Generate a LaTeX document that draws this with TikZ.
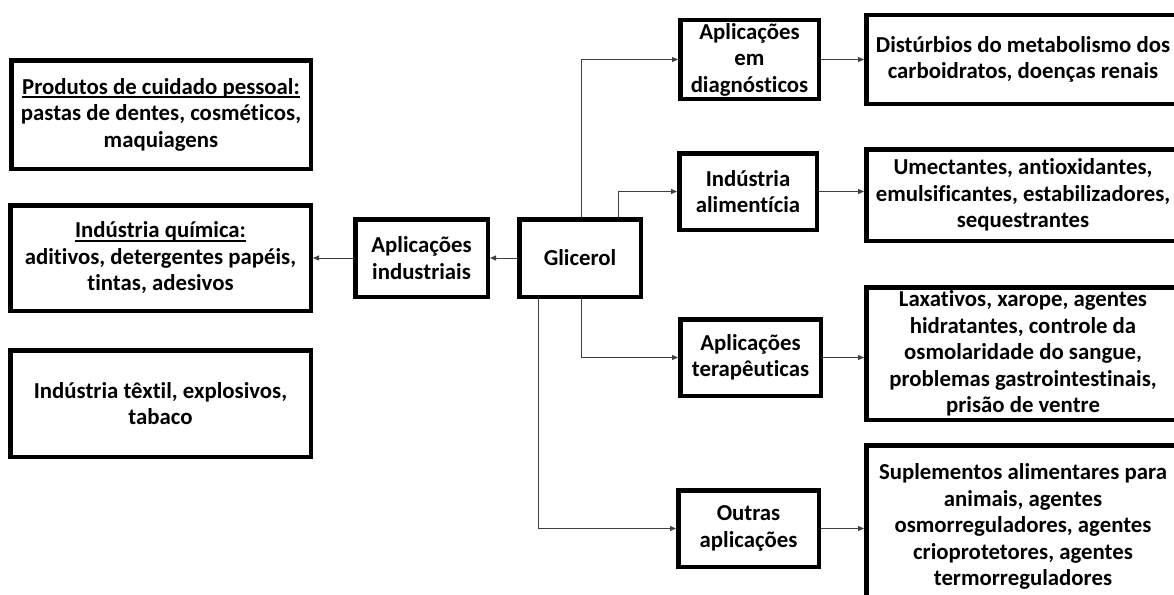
\documentclass[tikz,border=0pt]{standalone}
\usepackage{fontspec}
\setmainfont{Carlito}[Ligatures={NoCommon}]
\usetikzlibrary{arrows.meta}
\newcommand\myul[1]{\setbox0\hbox{#1}\rlap{\vrule height -1.6pt depth 3.6pt width \wd0}\box0}
\tikzset{
  boxnode/.style={draw=black, line width=4.5pt, inner sep=0pt, align=center,
    font=\fontsize{22.8}{26.5}\selectfont\bfseries, fill=white},
  conn/.style={line width=1pt, draw=black!75, -{Triangle[length=6pt,width=5pt]}},
}
\begin{document}
\begin{tikzpicture}[x=1pt,y=-1pt]
\useasboundingbox (0,0) rectangle (1174,594);
\clip (0,0) rectangle (1174,594);
\fill[white] (0,0) rectangle (1174,594);
% left column
\node[boxnode, minimum width=299.5pt, minimum height=108.5pt] (prod) at (161,114.5)
  {\myul{Produtos de cuidado pessoal:}\\pastas de dentes, cosméticos,\\maquiagens};
\node[boxnode, minimum width=300.5pt, minimum height=105.5pt] (quim) at (160.5,258)
  {\myul{Indústria química:}\\aditivos, detergentes papéis,\\tintas, adesivos};
\node[boxnode, minimum width=300.5pt, minimum height=106.5pt] (text) at (160.5,403.5)
  {Indústria têxtil, explosivos,\\tabaco};
% centre
\node[boxnode, minimum width=132.5pt, minimum height=77.5pt] (apind) at (421.5,258)
  {Aplicações\\industriais};
\node[boxnode, minimum width=121.5pt, minimum height=77.5pt] (glic) at (580,258)
  {Glicerol};
% middle column
\node[boxnode, minimum width=138.5pt, minimum height=78.5pt] (diag) at (749.5,59.5)
  {Aplicações\\em\\diagnósticos};
\node[boxnode, minimum width=137.5pt, minimum height=76.5pt] (alim) at (748,191.5)
  {Indústria\\alimentícia};
\node[boxnode, minimum width=140.5pt, minimum height=76.5pt] (terap) at (750.5,357.5)
  {Aplicações\\terapêuticas};
\node[boxnode, minimum width=140.5pt, minimum height=76.5pt] (outras) at (748.5,528.5)
  {Outras\\aplicações};
% right column
\node[boxnode, minimum width=313.5pt, minimum height=88.5pt] (dist) at (1023,59.5)
  {Distúrbios do metabolismo dos\\carboidratos, doenças renais};
\node[boxnode, minimum width=313.5pt, minimum height=91.5pt] (umect) at (1023,195)
  {Umectantes, antioxidantes,\\emulsificantes, estabilizadores,\\sequestrantes};
\node[boxnode, minimum width=313.5pt, minimum height=132.5pt] (lax) at (1023,353.5)
  {Laxativos, xarope, agentes\\hidratantes, controle da\\osmolaridade do sangue,\\problemas gastrointestinais,\\prisão de ventre};
\node[boxnode, minimum width=313.5pt, minimum height=162.5pt] (supl) at (1023,526.5)
  {Suplementos alimentares para\\animais, agentes\\osmorreguladores, agentes\\crioprotetores, agentes\\termorreguladores};
% connectors
\coordinate (gtop1) at ([xshift=1pt]glic.north);
\coordinate (gtop2) at ([xshift=38pt]glic.north);
\coordinate (gbot1) at ([xshift=1pt]glic.south);
\coordinate (gbot2) at ([xshift=-42pt]glic.south);
\draw[conn] (glic.west) -- (apind.east);
\draw[conn] (apind.west) -- (quim.east);
\draw[conn] (gtop1) |- (diag.west);
\draw[conn] (gtop2) |- (alim.west);
\draw[conn] (gbot1) |- (terap.west);
\draw[conn] (gbot2) |- (outras.west);
\draw[conn] (diag.east) -- (diag.east -| dist.west);
\draw[conn] (alim.east) -- (alim.east -| umect.west);
\draw[conn] (terap.east) -- (terap.east -| lax.west);
\draw[conn] (outras.east) -- (outras.east -| supl.west);
\end{tikzpicture}
\end{document}
